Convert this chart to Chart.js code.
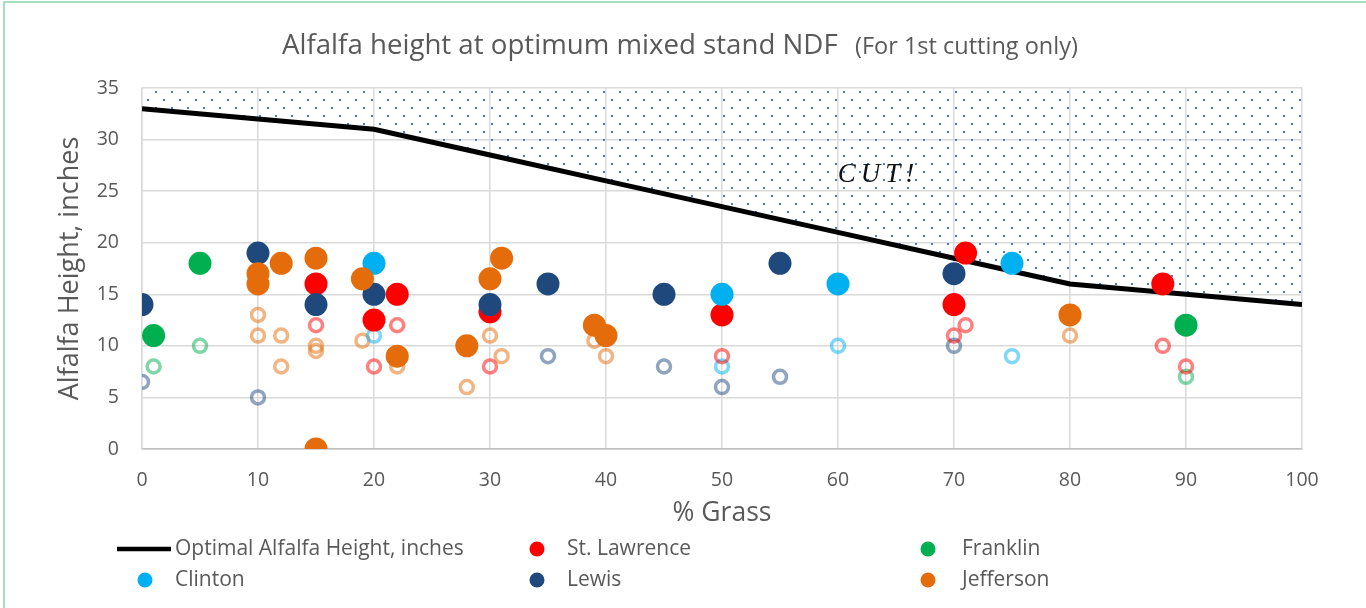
<!DOCTYPE html>
<html>
<head>
<meta charset="utf-8">
<script src="https://cdn.jsdelivr.net/npm/chart.js@4.4.1/dist/chart.umd.min.js"></script>
<style>
  html, body { margin: 0; padding: 0; background: #fff; overflow: hidden; }
  #wrap { position: relative; width: 1366px; height: 608px; }
  #frame { position: absolute; left: 3px; top: 1px; width: 1400px; height: 700px;
           border-left: 2px solid #a6dfbf; border-top: 2px solid #a6dfbf; pointer-events: none; }
  canvas { position: absolute; left: 0; top: 0; }
</style>
</head>
<body>
<div id="wrap">
  <canvas id="c" width="1366" height="608"></canvas>
  <div id="frame"></div>
</div>
<script>
// ---------- DATA ----------
const grassTicks = [0, 10, 20, 30, 40, 50, 60, 70, 80, 90, 100];
const optimalHeight = [33, 32, 31, 28.5, 26, 23.5, 21, 18.5, 16, 15, 14];

// filled markers [% grass, alfalfa height]
const stLawrence = [[15,16],[20,12.5],[22,15],[30,13.3],[50,13],[70,14],[71,19],[88,16]];
const franklin   = [[1,11],[5,18],[90,12]];
const clinton    = [[20,18],[50,15],[60,16],[75,18]];
const lewis      = [[0,14],[10,19],[15,14],[20,15],[30,14],[35,16],[45,15],[55,18],[70,17]];
const jefferson  = [[10,17],[10,16],[12,18],[15,18.5],[15,0],[19,16.5],[22,9],[28,10],[30,16.5],[31,18.5],[39,12],[40,11],[80,13]];

// hollow markers
const stLawrenceOpen = [[15,12],[20,8],[22,12],[30,8],[50,9],[70,11],[71,12],[88,10],[90,8]];
const franklinOpen   = [[1,8],[5,10],[90,7]];
const clintonOpen    = [[20,11],[50,8],[60,10],[75,9]];
const lewisOpen      = [[0,6.5],[10,5],[35,9],[45,8],[50,6],[55,7],[70,10]];
const jeffersonOpen  = [[10,13],[10,11],[12,11],[12,8],[15,10],[15,9.5],[19,10.5],[22,8],[28,6],[30,11],[31,9],[39,10.5],[40,9],[80,11]];

const yTicks = [0, 5, 10, 15, 20, 25, 30, 35];
// ---------------------------

const COL = { red: '#ff0000', green: '#00b050', cyan: '#00b0f0', navy: '#1f497d', orange: '#e46c0a' };
const TEXT = '#595959';
const FONT = '"Open Sans", "Noto Sans", sans-serif';

function pts(a) { return a.map(p => ({ x: p[0], y: p[1] })); }
function rgba(hex, a) {
  const n = parseInt(hex.slice(1), 16);
  return `rgba(${(n>>16)&255},${(n>>8)&255},${n&255},${a})`;
}

// dotted pattern for the "CUT!" zone
const pc = document.createElement('canvas');
pc.width = 16; pc.height = 16;
const pctx = pc.getContext('2d');
pctx.fillStyle = '#4a7ebb';
pctx.fillRect(3, 3, 2, 2);
pctx.fillRect(11, 11, 2, 2);
const pattern = pctx.createPattern(pc, 'repeat');

function filled(label, data, color, order) {
  return { label, data: pts(data), backgroundColor: color, borderColor: color, borderWidth: 0,
           pointRadius: 11.5, pointHoverRadius: 11.5, showLine: false, order, inLegend: true };
}
function hollow(label, data, color) {
  return { label, data: pts(data), backgroundColor: 'rgba(0,0,0,0)', borderColor: rgba(color, 0.5),
           borderWidth: 3.5, pointRadius: 6.5, pointHoverRadius: 6.5, showLine: false, order: 50, inLegend: false };
}

const datasets = [
  { label: 'Optimal Alfalfa Height, inches', type: 'line',
    data: grassTicks.map((g, i) => ({ x: g, y: optimalHeight[i] })),
    borderColor: '#000', borderWidth: 5, pointRadius: 0, pointHoverRadius: 0, tension: 0,
    fill: 'end', backgroundColor: pattern, order: 100, inLegend: true, isLine: true },
  filled('St. Lawrence', stLawrence, COL.red, 5),
  filled('Franklin', franklin, COL.green, 4),
  filled('Clinton', clinton, COL.cyan, 3),
  filled('Lewis', lewis, COL.navy, 2),
  filled('Jefferson', jefferson, COL.orange, 1),
  hollow('St. Lawrence (open)', stLawrenceOpen, COL.red),
  hollow('Franklin (open)', franklinOpen, COL.green),
  hollow('Clinton (open)', clintonOpen, COL.cyan),
  hollow('Lewis (open)', lewisOpen, COL.navy),
  hollow('Jefferson (open)', jeffersonOpen, COL.orange),
];

function fitSize(ctx, text, family, targetW) {
  ctx.font = `100px ${family}`;
  return 100 * targetW / ctx.measureText(text).width;
}

const decor = {
  id: 'decor',
  afterDatasetsDraw(chart) {
    const { ctx, scales } = chart;
    ctx.save();
    ctx.fillStyle = '#111';
    ctx.font = 'italic 27px "Liberation Serif", "DejaVu Serif", serif';
    ctx.letterSpacing = '5px';
    ctx.textAlign = 'center';
    ctx.textBaseline = 'middle';
    ctx.fillText('CUT!', scales.x.getPixelForValue(63.5), scales.y.getPixelForValue(26.6));
    ctx.restore();
  },
  afterDraw(chart) {
    const { ctx } = chart;
    ctx.save();
    ctx.fillStyle = TEXT;
    ctx.textBaseline = 'middle';
    ctx.textAlign = 'left';
    const main = 'Alfalfa height at optimum mixed stand NDF';
    const sub = '(For 1st cutting only)';
    const s1 = fitSize(ctx, main, FONT, 556);
    ctx.font = `${s1}px ${FONT}`;
    ctx.fillText(main, 282, 46);
    const s2 = fitSize(ctx, sub, FONT, 223);
    ctx.font = `${s2}px ${FONT}`;
    ctx.fillText(sub, 855, 47);

    // legend (3 columns x 2 rows)
    const colMarker = [145, 537, 928];
    const colText = [175, 567, 962];
    const rowY = [549, 580];
    const items = chart.data.datasets.filter(d => d.inLegend);
    ctx.font = `21px ${FONT}`;
    items.forEach((d, i) => {
      const r = Math.floor(i / 3), c = i % 3;
      const y = rowY[r];
      if (d.isLine) {
        ctx.strokeStyle = '#000';
        ctx.lineWidth = 4.5;
        ctx.beginPath();
        ctx.moveTo(117, y); ctx.lineTo(171, y);
        ctx.stroke();
      } else {
        ctx.fillStyle = d.backgroundColor;
        ctx.beginPath();
        ctx.arc(colMarker[c], y, 7.5, 0, Math.PI * 2);
        ctx.fill();
      }
      ctx.fillStyle = TEXT;
      ctx.fillText(d.label, colText[c], y);
    });
    ctx.restore();
  }
};

new Chart(document.getElementById('c'), {
  type: 'scatter',
  data: { datasets },
  plugins: [decor],
  options: {
    responsive: false,
    animation: false,
    events: [],
    layout: { padding: { top: 88, right: 64, left: 0, bottom: 0 } },
    plugins: { legend: { display: false }, title: { display: false }, tooltip: { enabled: false } },
    scales: {
      x: {
        type: 'linear', min: 0, max: 100,
        afterBuildTicks: s => { s.ticks = grassTicks.map(v => ({ value: v })); },
        afterFit: s => { s.height = 159; },
        grid: { color: '#d9d9d9', lineWidth: 1.5, drawTicks: false },
        border: { color: '#bfbfbf', width: 1.5 },
        ticks: { color: TEXT, font: { family: FONT, size: 19.5 }, padding: 20, maxRotation: 0 },
        title: { display: true, text: '% Grass', color: TEXT, font: { family: FONT, size: 26.5 },
                 padding: { top: 0, bottom: 79 } }
      },
      y: {
        type: 'linear', min: 0, max: 35,
        afterBuildTicks: s => { s.ticks = yTicks.map(v => ({ value: v })); },
        afterFit: s => { s.width = 142; },
        grid: { color: '#d9d9d9', lineWidth: 1.5, drawTicks: false },
        border: { color: '#d9d9d9', width: 1.5 },
        ticks: { color: TEXT, font: { family: FONT, size: 19.5 }, padding: 23 },
        title: { display: true, text: 'Alfalfa Height, inches', color: TEXT, font: { family: FONT, size: 27 },
                 padding: { top: 54, bottom: 0 } }
      }
    }
  }
});
</script>
</body>
</html>
